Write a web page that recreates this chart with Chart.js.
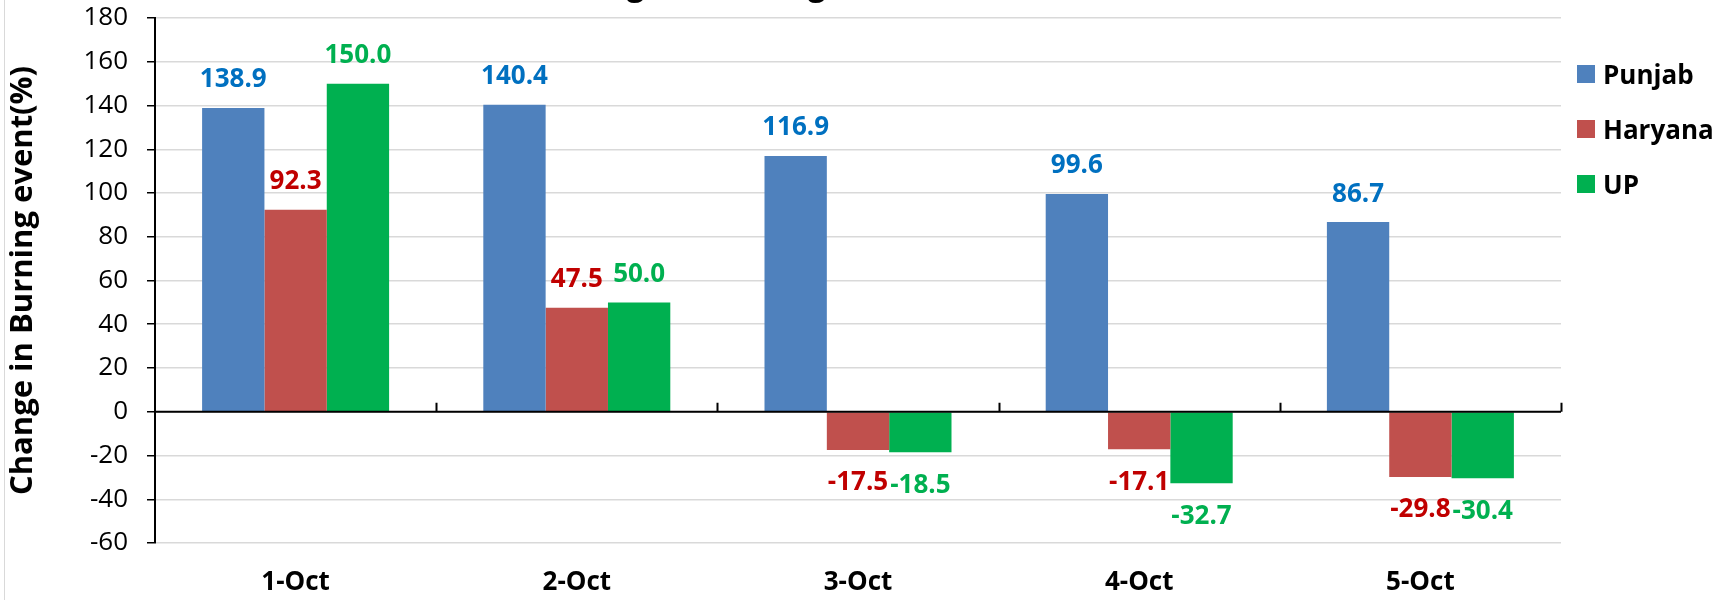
<!DOCTYPE html>
<html>
<head>
<meta charset="utf-8">
<script src="https://cdn.jsdelivr.net/npm/chart.js@4.4.0/dist/chart.umd.min.js"></script>
<style>
  html, body { margin: 0; padding: 0; background: #fff; }
  #wrap { position: relative; width: 1727px; height: 600px; }
  #legend { position: absolute; left: 1577px; top: 46px; font: bold 26px "Open Sans"; color: #000; }
  #legend .item { display: flex; align-items: center; height: 55px; }
  #legend .box { width: 18px; height: 18px; margin-right: 8px; }
</style>
</head>
<body>
<div id="wrap">
  <canvas id="burnChart" width="1727" height="600"></canvas>
  <div id="legend"></div>
</div>
<script>
var days = ['1-Oct', '2-Oct', '3-Oct', '4-Oct', '5-Oct'];
var punjab = [138.9, 140.4, 116.9, 99.6, 86.7];
var haryana = [92.3, 47.5, -17.5, -17.1, -29.8];
var up = [150.0, 50.0, -18.5, -32.7, -30.4];
var yMin = -60, yMax = 180, yStep = 20;

var FONT = '"Open Sans", "Noto Sans", sans-serif';
var labelColors = ['#0070C0', '#C00000', '#00B050'];

// value labels above / below each bar
var valueLabels = {
    id: 'valueLabels',
    afterDatasetsDraw: function (chart) {
        var ctx = chart.ctx;
        var y = chart.scales.y;
        var x = chart.scales.x;
        var y0 = y.getPixelForValue(0);

        // zero line with the category tick marks pointing up
        ctx.save();
        ctx.strokeStyle = '#000';
        ctx.lineWidth = 2;
        ctx.beginPath();
        ctx.moveTo(x.left, y0);
        ctx.lineTo(x.right, y0);
        var step = x.width / days.length;
        for (var k = 1; k <= days.length; k++) {
            var px = Math.round(x.left + k * step) + 0.5;
            ctx.moveTo(px, y0 - 9);
            ctx.lineTo(px, y0);
        }
        ctx.stroke();

        ctx.font = 'bold 26px ' + FONT;
        ctx.textAlign = 'center';
        ctx.textBaseline = 'middle';
        chart.data.datasets.forEach(function (ds, di) {
            var meta = chart.getDatasetMeta(di);
            ctx.fillStyle = labelColors[di];
            meta.data.forEach(function (bar, i) {
                var v = ds.data[i];
                var ty = v >= 0 ? bar.y - 28 : bar.y + 33;
                ctx.fillText(v.toFixed(1), bar.x, ty);
            });
        });
        ctx.restore();
    },
    beforeDraw: function (chart) {
        // thin frame line on the left and the clipped chart title
        var ctx = chart.ctx;
        ctx.save();
        ctx.fillStyle = '#D9D9D9';
        ctx.fillRect(4, 0, 1, chart.height);
        ctx.fillStyle = '#000';
        ctx.font = 'bold 30px ' + FONT;
        ctx.textBaseline = 'alphabetic';
        ctx.textAlign = 'left';
        var tx = 627 - ctx.measureText('Chan').width;
        ctx.fillText('Change in Burning event', tx, -4);
        ctx.restore();
    }
};

var htmlLegend = {
    id: 'htmlLegend',
    afterUpdate: function (chart) {
        var box = document.getElementById('legend');
        box.innerHTML = '';
        chart.data.datasets.forEach(function (ds) {
            var item = document.createElement('div');
            item.className = 'item';
            var sw = document.createElement('span');
            sw.className = 'box';
            sw.style.background = ds.backgroundColor;
            var txt = document.createElement('span');
            txt.textContent = ds.label;
            item.appendChild(sw);
            item.appendChild(txt);
            box.appendChild(item);
        });
    }
};

var ctx = document.getElementById('burnChart').getContext('2d');
new Chart(ctx, {
    type: 'bar',
    data: {
        labels: days,
        datasets: [
            { label: 'Punjab', data: punjab, backgroundColor: '#4F81BD' },
            { label: 'Haryana', data: haryana, backgroundColor: '#C0504D' },
            { label: 'UP', data: up, backgroundColor: '#00B050' }
        ]
    },
    options: {
        responsive: false,
        animation: false,
        layout: { padding: { left: 5, right: 166, top: 18, bottom: 0 } },
        datasets: {
            bar: { categoryPercentage: 0.665, barPercentage: 1.0, borderWidth: 0 }
        },
        plugins: {
            legend: { display: false },
            tooltip: { enabled: false }
        },
        scales: {
            x: {
                grid: { display: false, drawTicks: false },
                border: { display: false },
                ticks: { color: '#000', padding: 24, maxRotation: 0, font: { family: FONT, size: 26, weight: 'bold' } },
                afterFit: function (scale) { scale.height = 57; }
            },
            y: {
                min: yMin,
                max: yMax,
                ticks: { stepSize: yStep, color: '#000', padding: 19, font: { family: FONT, size: 26 } },
                grid: { color: '#D9D9D9', lineWidth: 1.5, tickColor: '#000', tickLength: 8, tickWidth: 1.5 },
                border: { color: '#000', width: 2 },
                title: {
                    display: true,
                    text: 'Change in Burning event(%)',
                    color: '#000',
                    font: { family: FONT, size: 31, weight: 'bold' },
                    padding: { top: 0, bottom: 0 }
                },
                afterFit: function (scale) {
                    scale.width = 150;
                    scale.paddingTop = 0;
                    scale.paddingBottom = 0;
                }
            }
        }
    },
    plugins: [valueLabels, htmlLegend]
});
</script>
</body>
</html>
